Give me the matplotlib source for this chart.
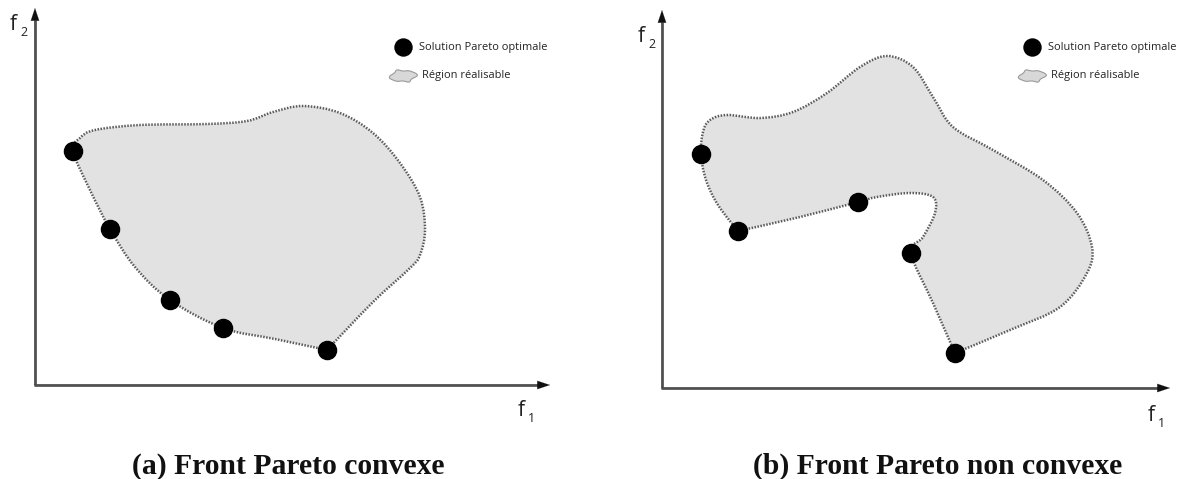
import numpy as np
import matplotlib
matplotlib.use("Agg")
import matplotlib.pyplot as plt
from matplotlib.path import Path
from matplotlib.patches import PathPatch

# ---- data (figure pixel space, y downward) ----
pareto_a_x = [73, 110, 170, 223, 327]
pareto_a_y = [151, 229, 300, 328, 350]
outline_a_x = [73, 80, 95, 140, 207, 247, 273, 303, 340, 373, 400, 420, 425, 420, 410, 373, 327,
               275, 223, 170, 135, 110, 90]
outline_a_y = [151, 138, 130, 125, 124, 121, 112, 106, 113, 133, 163, 197, 230, 255, 268, 302, 350,
               339, 328, 300, 267, 229, 190]
corners_a = [16]

pareto_b_x = [701, 738, 858, 911, 955]
pareto_b_y = [154, 231, 202, 253, 353]
outline_b_x = [701, 703, 710, 727, 760, 793, 827, 860, 887, 913, 933, 953, 993, 1043, 1077, 1092,
               1087, 1060, 1010, 955, 933, 911, 923, 935, 933, 910, 877, 858, 800, 738, 718, 706]
outline_b_y = [154, 132, 120, 115, 118, 112, 93, 67, 56, 67, 97, 127, 150, 180, 213, 247,
               273, 307, 330, 353, 303, 253, 237, 213, 197, 193, 197, 202, 217, 231, 205, 180]
corners_b = [19, 29]

captions = ["(a) Front Pareto convexe", "(b) Front Pareto non convexe"]
legend_labels = ["Solution Pareto optimale", "Région réalisable"]

W, H = 1200, 479
fig = plt.figure(figsize=(W / 100, H / 100), dpi=100)
ax = fig.add_axes([0, 0, 1, 1])
ax.set_xlim(0, W)
ax.set_ylim(H, 0)
ax.axis("off")


def smooth_path(xs, ys, corners=()):
    pts = np.column_stack([xs, ys]).astype(float)
    n = len(pts)
    tens = np.ones(n)
    for c in corners:
        tens[c] = 0.0
    verts = [pts[0]]
    codes = [Path.MOVETO]
    for i in range(n):
        j = (i + 1) % n
        p0 = pts[(i - 1) % n]
        p1 = pts[i]
        p2 = pts[j]
        p3 = pts[(i + 2) % n]
        c1 = p1 + (p2 - p0) / 6.0 * tens[i]
        c2 = p2 - (p3 - p1) / 6.0 * tens[j]
        verts += [c1, c2, p2]
        codes += [Path.CURVE4] * 3
    return Path(np.array(verts), codes)


def draw_axes(x0, y0, ytop, xright):
    ax.annotate("", xy=(x0, ytop), xytext=(x0, y0 + 1),
                arrowprops=dict(arrowstyle="-|>,head_length=0.9,head_width=0.3",
                                color="#111111", lw=0.1, shrinkA=0, shrinkB=0))
    ax.plot([x0, x0], [y0, ytop + 12], color="#555555", lw=2, solid_capstyle="butt")
    ax.annotate("", xy=(xright, y0), xytext=(x0 - 1, y0),
                arrowprops=dict(arrowstyle="-|>,head_length=0.9,head_width=0.3",
                                color="#111111", lw=0.1, shrinkA=0, shrinkB=0))
    ax.plot([x0 - 1, xright - 12], [y0, y0], color="#555555", lw=2, solid_capstyle="butt")


def region(xs, ys, corners):
    p = smooth_path(xs, ys, corners)
    ax.add_patch(PathPatch(p, facecolor="#e2e2e2", edgecolor="none", zorder=1))
    ax.add_patch(PathPatch(p, facecolor="none", edgecolor="#5a5a5a", lw=1.8,
                           linestyle=(0, (0.6, 0.6)), zorder=2))


def cloud(cx, cy):
    t = np.linspace(0, 2 * np.pi, 13)[:-1]
    rx = np.array([14, 10, 12, 9, 13, 15, 13, 10, 12, 9, 12, 15])
    ry = np.array([5, 6, 7, 5, 6, 5, 5, 6, 7, 5, 6, 5])
    xs = cx + rx * np.cos(t)
    ys = cy + ry * np.sin(t)
    p = smooth_path(xs, ys)
    ax.add_patch(PathPatch(p, facecolor="#d8d8d8", edgecolor="#9a9a9a", lw=0.8, zorder=3))


def legend(dx, dy, tx):
    ax.scatter([dx], [dy], s=150, color="black", zorder=4)
    ax.text(tx, dy, legend_labels[0], fontsize=7.9, family="Open Sans", va="center", ha="left",
            color="#222222")
    cloud(dx, dy + 29)
    ax.text(tx + 3, dy + 28, legend_labels[1], fontsize=7.9, family="Open Sans", va="center",
            ha="left", color="#222222")


def flabel(x, y, sub):
    ax.text(x, y, "f", fontsize=15, family="Open Sans", color="#222222", va="baseline")
    ax.text(x + 10, y + 6, sub, fontsize=9, family="Open Sans", color="#222222", va="baseline")


# Panel (a)
region(outline_a_x, outline_a_y, corners_a)
ax.scatter(pareto_a_x, pareto_a_y, s=170, color="black", zorder=5)
draw_axes(35, 385, 8, 550)
flabel(10, 30, "2")
flabel(518, 416, "1")
legend(403, 47, 419)
ax.text(288, 466, captions[0], fontsize=21.3, family="Liberation Serif", weight="bold",
        ha="center", va="center", color="#111111")

# Panel (b)
region(outline_b_x, outline_b_y, corners_b)
ax.scatter(pareto_b_x, pareto_b_y, s=170, color="black", zorder=5)
draw_axes(662, 388, 10, 1170)
flabel(638, 42, "2")
flabel(1148, 421, "1")
legend(1032, 47, 1048)
ax.text(938, 466, captions[1], fontsize=21.3, family="Liberation Serif", weight="bold",
        ha="center", va="center", color="#111111")

fig.savefig("out.png", dpi=100)
